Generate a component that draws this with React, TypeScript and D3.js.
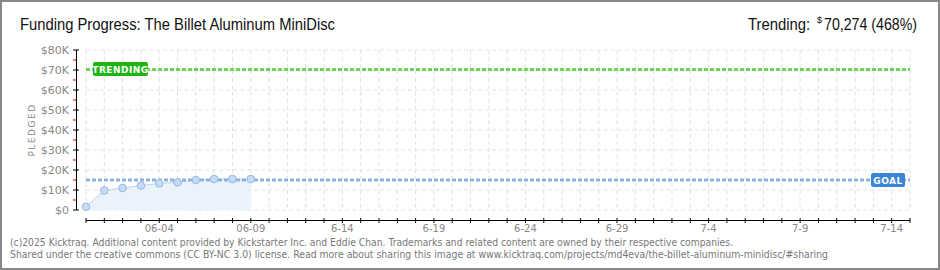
import React, { useEffect } from "react";
import * as d3 from "d3";

const dates = ["2025-05-31","2025-06-01","2025-06-02","2025-06-03","2025-06-04","2025-06-05","2025-06-06","2025-06-07","2025-06-08","2025-06-09"];
const pledged = [1600, 9800, 11000, 12200, 13300, 13800, 15000, 15500, 15500, 15500];
const yTicks = [0, 10000, 20000, 30000, 40000, 50000, 60000, 70000, 80000];
const xLabelDates = ["2025-06-04","2025-06-09","2025-06-14","2025-06-19","2025-06-24","2025-06-29","2025-07-04","2025-07-09","2025-07-14"];
const xLabels = ["06-04","06-09","6-14","6-19","6-24","6-29","7-4","7-9","7-14"];
const goal = 15000;
const trending = 70274;

const W = 940, H = 270;
const parse = d3.utcParse("%Y-%m-%d");

export default function App() {
  useEffect(() => { document.body.style.margin = "0"; }, []);
  const x = d3.scaleUtc().domain([parse("2025-05-31")!, parse("2025-07-15")!]).range([86, 910]);
  const y = d3.scaleLinear().domain([0, 80000]).range([210, 50]);
  const days = d3.utcDay.range(parse("2025-05-31")!, d3.utcDay.offset(parse("2025-07-15")!, 1));
  const pts = dates.map((d, i) => ({ x: x(parse(d)!), y: y(pledged[i]) }));
  const line = d3.line<any>().x(d => d.x).y(d => d.y);
  const area = d3.area<any>().x(d => d.x).y0(y(0)).y1(d => d.y);
  const minor = d3.range(5000, 80000, 10000);
  const f = "'DejaVu Sans', Verdana, sans-serif";
  const tf = "'Liberation Sans', Arial, sans-serif";
  return (
    <svg width={W} height={H} style={{ display: "block" }}>
      <rect x={0} y={0} width={W} height={H} fill="#fff" />
      <rect x={1} y={1} width={W - 2} height={H - 2} fill="none" stroke="#888" strokeWidth={2} />
      <text x={20} y={30} fontFamily={tf} fontSize={16} fill="#111" textLength={315} lengthAdjust="spacingAndGlyphs">Funding Progress: The Billet Aluminum MiniDisc</text>
      <text x={748} y={30} fontFamily={tf} fontSize={16} fill="#111" textLength={62} lengthAdjust="spacingAndGlyphs">Trending:</text>
      <text x={817} y={23} fontFamily={tf} fontSize={9} fill="#111">$</text>
      <text x={824} y={30} fontFamily={tf} fontSize={16} fill="#111" textLength={93} lengthAdjust="spacingAndGlyphs">70,274 (468%)</text>
      {/* grid */}
      {days.map((d, i) => (
        <line key={"vg" + i} x1={x(d)} x2={x(d)} y1={50} y2={210} stroke="#e2e2e2" strokeDasharray="4,3" />
      ))}
      {yTicks.map((t, i) => (
        <line key={"hg" + i} x1={86} x2={910} y1={y(t)} y2={y(t)} stroke="#e2e2e2" strokeDasharray="4,3" />
      ))}
      {/* area + line */}
      <path d={area(pts)!} fill="#eaf3fc" />
      <path d={line(pts)!} fill="none" stroke="#b9d4f0" strokeWidth={1} />
      {/* goal line */}
      <line x1={86} x2={910} y1={y(goal)} y2={y(goal)} stroke="#8fb2dc" strokeWidth={3} strokeDasharray="4,2" />
      {/* trending line */}
      <line x1={86} x2={910} y1={y(trending)} y2={y(trending)} stroke="#6fd35a" strokeWidth={3} strokeDasharray="4,2" />
      {pts.map((p, i) => (
        <circle key={"c" + i} cx={p.x} cy={p.y} r={3.8} fill="#c4dcf6" stroke="#96b9e0" strokeWidth={1} />
      ))}
      {/* trending label */}
      <rect x={93} y={62} width={55} height={14} rx={2} fill="#1db512" />
      <text x={120.5} y={72.5} textAnchor="middle" fontFamily={f} fontSize={9} fontWeight="bold" fill="#fff" letterSpacing={0.5}>TRENDING</text>
      {/* goal label */}
      <rect x={871} y={173} width={34} height={14} rx={2} fill="#3a86d6" />
      <text x={888} y={183.5} textAnchor="middle" fontFamily={f} fontSize={9} fontWeight="bold" fill="#fff" letterSpacing={0.5}>GOAL</text>
      {/* y axis */}
      <line x1={76.5} x2={76.5} y1={50} y2={210} stroke="#000" />
      {yTicks.map((t, i) => (
        <g key={"yt" + i}>
          <line x1={73} x2={79} y1={y(t)} y2={y(t)} stroke="#000" />
          <text x={69} y={y(t) + 4} textAnchor="end" fontFamily={f} fontSize={11} fill="#888">{"$" + (t === 0 ? "0" : t / 1000 + "K")}</text>
        </g>
      ))}
      {minor.map((t, i) => (
        <line key={"mt" + i} x1={73} x2={76} y1={y(t)} y2={y(t)} stroke="#e00" />
      ))}
      <text transform="translate(35,130) rotate(-90)" textAnchor="middle" fontFamily={f} fontSize={9} fill="#888" letterSpacing={1.5}>PLEDGED</text>
      {/* x axis */}
      <line x1={86} x2={910} y1={220.5} y2={220.5} stroke="#000" />
      {days.map((d, i) => (
        <line key={"xt" + i} x1={x(d)} x2={x(d)} y1={218} y2={223} stroke="#000" />
      ))}
      {xLabelDates.map((d, i) => (
        <text key={"xl" + i} x={x(parse(d)!)} y={232} textAnchor="middle" fontFamily={f} fontSize={10} fill="#888">{xLabels[i]}</text>
      ))}
      {/* footer */}
      <text x={10} y={246} fontFamily={f} fontSize={10} fill="#777" textLength={723} lengthAdjust="spacingAndGlyphs">(c)2025 Kicktraq. Additional content provided by Kickstarter Inc. and Eddie Chan. Trademarks and related content are owned by their respective companies.</text>
      <text x={10} y={258} fontFamily={f} fontSize={10} fill="#777" textLength={818} lengthAdjust="spacingAndGlyphs">Shared under the creative commons (CC BY-NC 3.0) license. Read more about sharing this image at www.kicktraq.com/projects/md4eva/the-billet-aluminum-minidisc/#sharing</text>
    </svg>
  );
}
